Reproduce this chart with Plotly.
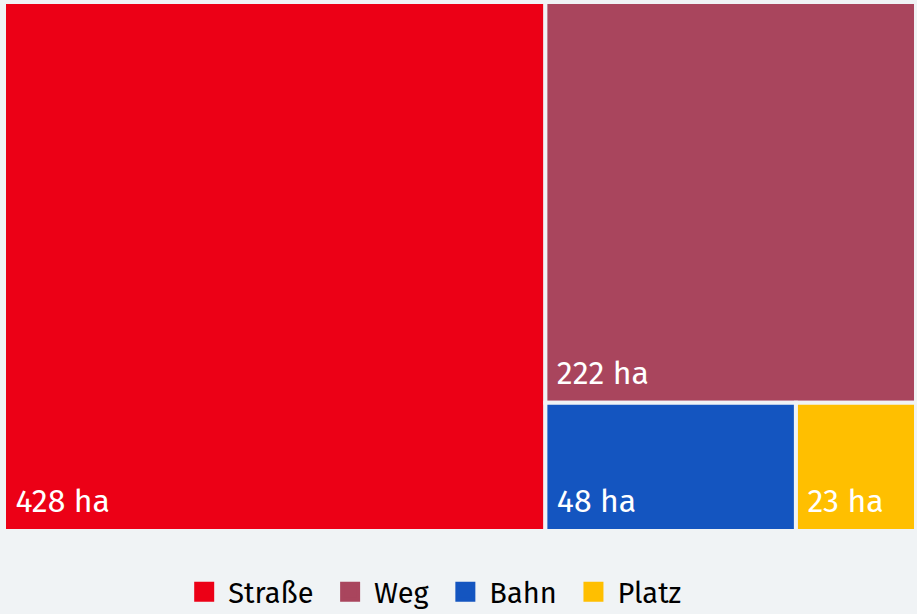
import plotly.graph_objects as go

# Flächen nach Art der Verkehrsfläche (Hektar)
categories = ["Straße", "Weg", "Bahn", "Platz"]
values = [428, 222, 48, 23]
colors = ["#ec0016", "#a9455d", "#1455c0", "#ffbf00"]

bg = "#f0f3f5"
font_family = "Fira Sans, Open Sans, Noto Sans, sans-serif"

fig = go.Figure()

fig.add_trace(go.Treemap(
    labels=categories,
    parents=[""] * len(categories),
    values=values,
    # kleine zweite Zeile schiebt die Beschriftung etwas nach oben
    texttemplate="<span style='font-size:32px'>&nbsp;%{value} ha</span><br>&nbsp;",
    textposition="bottom left",
    textfont=dict(color="white", size=10, family=font_family),
    marker=dict(colors=colors, line=dict(width=4, color=bg),
                pad=dict(t=0, l=0, r=0, b=0)),
    tiling=dict(packing="squarify", pad=0),
    pathbar=dict(visible=False),
    hoverinfo="label+value",
    sort=True,
    domain=dict(x=[0, 1], y=[0, 1]),
))

# Dummy-Traces nur für die Legende
for cat, col in zip(categories, colors):
    fig.add_trace(go.Scatter(
        x=[None], y=[None], mode="markers", name=cat + "&nbsp;",
        marker=dict(symbol="square", size=16, color=col,
                    line=dict(width=4, color=col)),
    ))

fig.update_layout(
    width=917, height=614,
    margin=dict(l=4, r=1, t=2, b=83, autoexpand=False),
    paper_bgcolor=bg,
    plot_bgcolor=bg,
    font=dict(family=font_family, color="black"),
    xaxis=dict(visible=False),
    yaxis=dict(visible=False),
    showlegend=True,
    legend=dict(
        orientation="h", x=0.475, xanchor="center", y=-0.115, yanchor="middle",
        font=dict(size=29, color="black"), bgcolor="rgba(0,0,0,0)",
        itemwidth=38,
    ),
)

fig.write_html("out.html", config={"displayModeBar": False},
               post_script="document.body.style.margin='0';")
